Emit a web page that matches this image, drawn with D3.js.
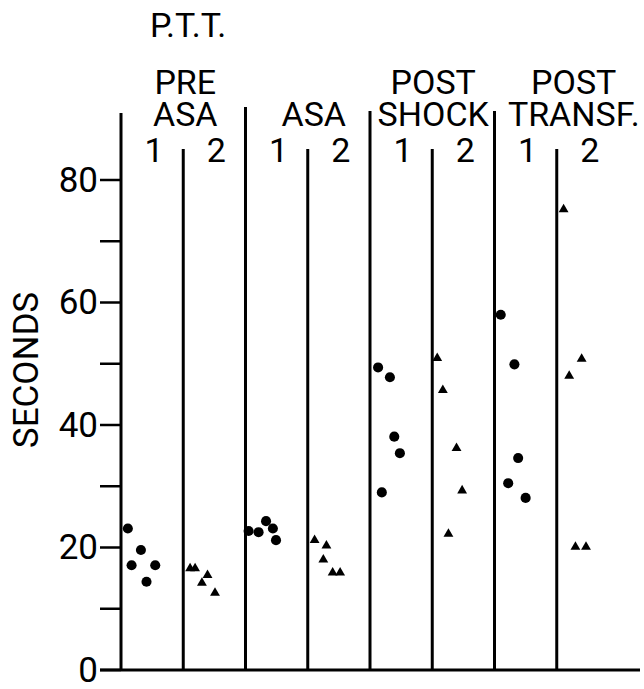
<!DOCTYPE html>
<html>
<head>
<meta charset="utf-8">
<script src="https://cdn.jsdelivr.net/npm/d3@7"></script>
<style>
  body { margin: 0; background: #fff; }
  text { font-family: Roboto, "Liberation Sans", sans-serif; fill: #000; }
</style>
</head>
<body>
<div id="chart"></div>
<script>
// Groups and subgroups (1 = first sample, 2 = second sample)
const groups = ["PRE ASA", "ASA", "POST SHOCK", "POST TRANSF."];
const groupLines = [["PRE", "ASA"], ["ASA"], ["POST", "SHOCK"], ["POST", "TRANSF."]];
const subgroups = ["1", "2"];
const yTicks = [0, 20, 40, 60, 80];
const yMinorTicks = [10, 30, 50, 70];

// P.T.T. values (seconds), sample 1 = circles, sample 2 = triangles
const preAsa1 = [23.1, 19.6, 17.1, 17.1, 14.4];
const preAsa2 = [16.6, 16.6, 15.5, 14.2, 12.6];
const asa1 = [22.7, 22.5, 24.3, 23.1, 21.2];
const asa2 = [21.2, 20.3, 18.0, 15.9, 15.9];
const postShock1 = [49.4, 47.8, 38.1, 35.4, 29.0];
const postShock2 = [50.9, 45.7, 36.2, 29.3, 22.2];
const postTransf1 = [58.0, 49.9, 34.6, 30.5, 28.1];
const postTransf2 = [75.2, 50.8, 48.0, 20.1, 20.1];

// horizontal scatter of each point inside its column (fraction of column width)
const preAsa1Jit = [0.11, 0.32, 0.17, 0.55, 0.41];
const preAsa2Jit = [0.11, 0.19, 0.39, 0.30, 0.51];
const asa1Jit = [0.05, 0.21, 0.33, 0.44, 0.49];
const asa2Jit = [0.11, 0.30, 0.25, 0.40, 0.52];
const postShock1Jit = [0.13, 0.32, 0.39, 0.48, 0.19];
const postShock2Jit = [0.08, 0.17, 0.39, 0.48, 0.26];
const postTransf1Jit = [0.10, 0.32, 0.38, 0.22, 0.50];
const postTransf2Jit = [0.11, 0.40, 0.20, 0.30, 0.47];

const columns = [
    { group: 0, sub: "1", values: preAsa1, jit: preAsa1Jit },
    { group: 0, sub: "2", values: preAsa2, jit: preAsa2Jit },
    { group: 1, sub: "1", values: asa1, jit: asa1Jit },
    { group: 1, sub: "2", values: asa2, jit: asa2Jit },
    { group: 2, sub: "1", values: postShock1, jit: postShock1Jit },
    { group: 2, sub: "2", values: postShock2, jit: postShock2Jit },
    { group: 3, sub: "1", values: postTransf1, jit: postTransf1Jit },
    { group: 3, sub: "2", values: postTransf2, jit: postTransf2Jit }
];
columns.forEach(c => c.key = c.group + "-" + c.sub);

const width = 644, height = 689;
const svg = d3.select("#chart").append("svg")
    .attr("width", width)
    .attr("height", height);

const x = d3.scaleBand()
    .domain(columns.map(c => c.key))
    .range([121, 619])
    .padding(0);

const y = d3.scaleLinear()
    .domain([0, 80])
    .range([670, 180]);

const fontSize = 34;

// title
svg.append("text")
    .attr("x", 150)
    .attr("y", 37)
    .style("font-size", fontSize + "px")
    .text("P.T.T.");

// y axis line
svg.append("line")
    .attr("x1", x.range()[0]).attr("x2", x.range()[0])
    .attr("y1", 113).attr("y2", y(0))
    .attr("stroke", "#000").attr("stroke-width", 3);

// baseline
svg.append("line")
    .attr("x1", 100).attr("x2", 640)
    .attr("y1", y(0)).attr("y2", y(0))
    .attr("stroke", "#000").attr("stroke-width", 3);

// ticks
svg.selectAll(".tick")
    .data(yTicks.concat(yMinorTicks))
    .enter().append("line")
    .attr("x1", 100).attr("x2", x.range()[0])
    .attr("y1", d => y(d)).attr("y2", d => y(d))
    .attr("stroke", "#000").attr("stroke-width", 2.5);

svg.selectAll(".tlabel")
    .data(yTicks)
    .enter().append("text")
    .attr("x", 98)
    .attr("y", d => y(d))
    .attr("dy", "0.34em")
    .attr("text-anchor", "end")
    .style("font-size", (fontSize + 1) + "px")
    .text(d => d);

svg.append("text")
    .attr("transform", `translate(38,${370}) rotate(-90)`)
    .attr("text-anchor", "middle")
    .style("font-size", (fontSize + 1) + "px")
    .text("SECONDS");

// column dividers (left edge of each column after the first)
columns.slice(1).forEach(c => {
    const isGroupStart = c.sub === "1";
    const top = isGroupStart ? (c.group === 1 ? 107 : 111) : 149;
    svg.append("line")
        .attr("x1", x(c.key)).attr("x2", x(c.key))
        .attr("y1", top).attr("y2", y(0))
        .attr("stroke", "#000").attr("stroke-width", 3);
});

// subgroup labels
svg.selectAll(".sublabel")
    .data(columns)
    .enter().append("text")
    .attr("x", d => x(d.key) + x.bandwidth() / 2 + 2)
    .attr("y", 162)
    .attr("text-anchor", "middle")
    .style("font-size", fontSize + "px")
    .text(d => d.sub);

// group labels, one text per group with a line per tspan
const groupNudge = [2, 6, 1, 17];
groups.forEach((g, i) => {
    const cx = x(i + "-2") + groupNudge[i];
    const lines = groupLines[i];
    const t = svg.append("text")
        .attr("text-anchor", "middle")
        .style("font-size", fontSize + "px");
    lines.forEach((s, j) => {
        t.append("tspan")
            .attr("x", cx)
            .attr("y", 126 - (lines.length - 1 - j) * 32)
            .text(s);
    });
});

// points
const circleSym = d3.symbol().type(d3.symbolCircle).size(80);
const triSym = d3.symbol().type(d3.symbolTriangle).size(42);

columns.forEach(c => {
    svg.selectAll(null)
        .data(c.values.map((v, i) => ({ v: v, j: c.jit[i] })))
        .enter().append("path")
        .attr("d", c.sub === "1" ? circleSym : triSym)
        .attr("transform", d => `translate(${x(c.key) + d.j * x.bandwidth()},${y(d.v)})`)
        .attr("fill", "#000");
});
</script>
</body>
</html>
